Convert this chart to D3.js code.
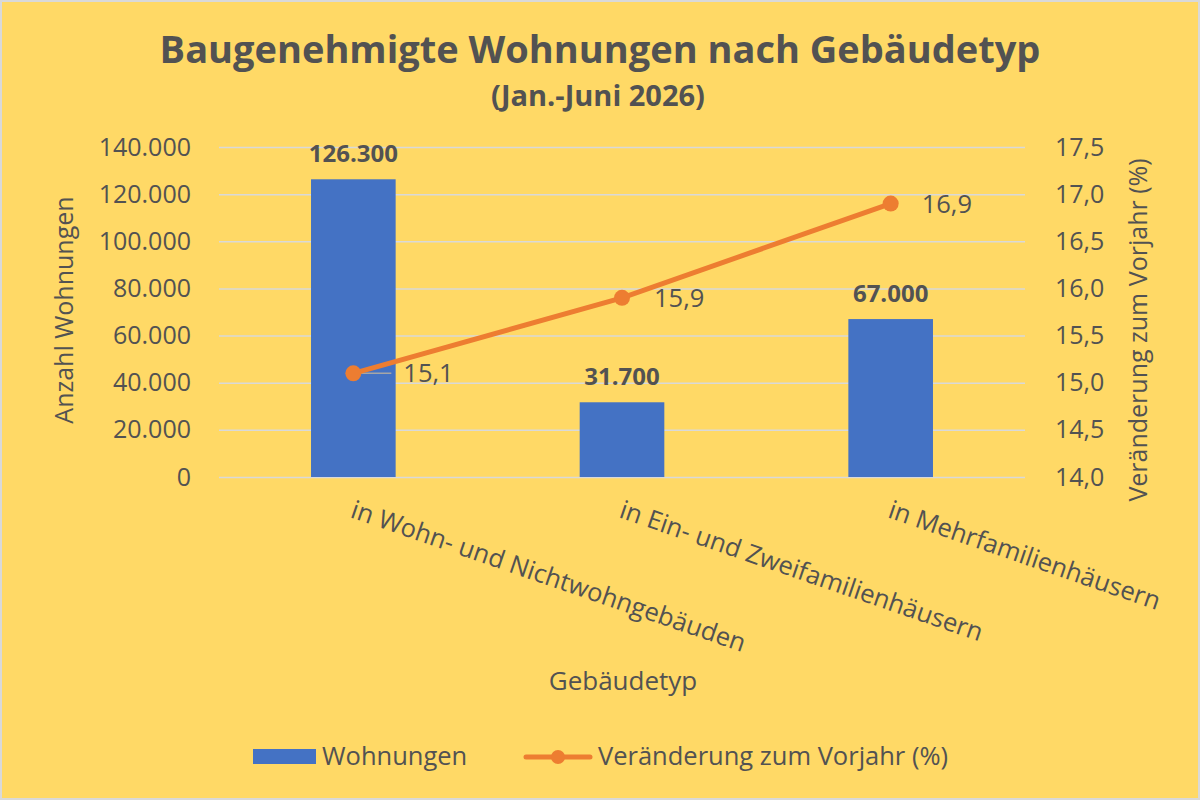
<!DOCTYPE html>
<html><head><meta charset="utf-8">
<script src="https://cdn.jsdelivr.net/npm/d3@7"></script>
<style>
body{margin:0;background:#fff;}
text{font-family:"Open Sans","Noto Sans",sans-serif;fill:#525252;}
</style></head>
<body><div id="chart"></div>
<script>
var categories=["in Wohn- und Nichtwohngebäuden","in Ein- und Zweifamilienhäusern","in Mehrfamilienhäusern"];
var wohnungen=[126300,31700,67000];
var veraenderung=[15.1,15.9,16.9];
var leftTicks=[0,20000,40000,60000,80000,100000,120000,140000];
var rightTicks=[14.0,14.5,15.0,15.5,16.0,16.5,17.0,17.5];

var W=1200,H=800;
var m={top:147,right:175,bottom:323,left:219};
var width=W-m.left-m.right, height=H-m.top-m.bottom;
var svg=d3.select("#chart").append("svg").attr("width",W).attr("height",H);
svg.append("rect").attr("x",1).attr("y",1).attr("width",W-2).attr("height",H-2)
   .attr("fill","#FFD966").attr("stroke","#D9D9D9").attr("stroke-width",2);

var fmtDE=d3.formatLocale({decimal:",",thousands:".",grouping:[3]});
var fmtInt=fmtDE.format(",.0f"), fmt1=fmtDE.format(".1f");

svg.append("text").attr("x",600).attr("y",63).attr("text-anchor","middle")
   .style("font-size","38px").style("font-weight","bold").text("Baugenehmigte Wohnungen nach Gebäudetyp");
svg.append("text").attr("x",598).attr("y",106).attr("text-anchor","middle")
   .style("font-size","29px").style("font-weight","bold").text("(Jan.-Juni 2026)");

var g=svg.append("g").attr("transform","translate("+m.left+","+m.top+")");
var x=d3.scaleBand().domain(categories).range([0,width]).paddingInner(0.685).paddingOuter(0.3425);
var y=d3.scaleLinear().domain([0,140000]).range([height,0]);
var y2=d3.scaleLinear().domain([14,17.5]).range([height,0]);

// grid
g.append("g").call(d3.axisLeft(y).tickValues(leftTicks).tickSize(-width).tickFormat(""))
 .call(function(s){s.select(".domain").remove();s.selectAll("line").attr("stroke","#D9D9D9").attr("stroke-width",1.5);});

// left axis
g.append("g").call(d3.axisLeft(y).tickValues(leftTicks).tickSize(0).tickPadding(28).tickFormat(fmtInt))
 .call(function(s){s.select(".domain").remove();s.selectAll("text").style("font-size","25px").attr("fill","#525252");});
// right axis
g.append("g").attr("transform","translate("+width+",0)")
 .call(d3.axisRight(y2).tickValues(rightTicks).tickSize(0).tickPadding(30).tickFormat(fmt1))
 .call(function(s){s.select(".domain").remove();s.selectAll("text").style("font-size","25px").attr("fill","#525252");});

// bars
g.selectAll("rect.bar").data(wohnungen).enter().append("rect").attr("class","bar")
 .attr("x",function(d,i){return x(categories[i]);}).attr("width",x.bandwidth())
 .attr("y",function(d){return y(d);}).attr("height",function(d){return height-y(d);})
 .attr("fill","#4472C4");
g.selectAll("text.blab").data(wohnungen).enter().append("text").attr("class","blab")
 .attr("x",function(d,i){return x(categories[i])+x.bandwidth()/2;}).attr("y",function(d){return y(d)-17;})
 .attr("text-anchor","middle").style("font-size","24px").style("font-weight","bold").attr("fill","#404040")
 .text(function(d){return fmtInt(d);});

// x labels
g.selectAll("text.xl").data(categories).enter().append("text").attr("class","xl")
 .attr("transform",function(d){return "translate("+(x(d)+x.bandwidth()/2-4)+","+(height+40)+") rotate(19)";})
 .style("font-size","25.5px").text(function(d){return d;});

// line
var cx=function(i){return x(categories[i])+x.bandwidth()/2;};
var line=d3.line().x(function(d,i){return cx(i);}).y(function(d){return y2(d);});
// leader line for first label
g.append("line").attr("x1",cx(0)).attr("x2",cx(0)+38).attr("y1",y2(veraenderung[0])).attr("y2",y2(veraenderung[0]))
 .attr("stroke","#A6A6A6").attr("stroke-width",1.5);
g.append("path").datum(veraenderung).attr("fill","none").attr("stroke","#ED7D31").attr("stroke-width",5)
 .attr("stroke-linecap","round").attr("d",line);
g.selectAll("circle.pt").data(veraenderung).enter().append("circle").attr("class","pt")
 .attr("cx",function(d,i){return cx(i);}).attr("cy",function(d){return y2(d);}).attr("r",8).attr("fill","#ED7D31");
var lblOff=[50,32,31];
g.selectAll("text.llab").data(veraenderung).enter().append("text").attr("class","llab")
 .attr("x",function(d,i){return cx(i)+lblOff[i];}).attr("y",function(d){return y2(d)+9;})
 .style("font-size","25.5px").attr("fill","#404040").text(function(d){return fmt1(d);});

// axis titles
svg.append("text").attr("transform","translate(73,"+(m.top+height/2-2)+") rotate(-90)").attr("text-anchor","middle")
 .style("font-size","25px").text("Anzahl Wohnungen");
svg.append("text").attr("transform","translate(1147,"+(m.top+height/2+18)+") rotate(-90)").attr("text-anchor","middle")
 .style("font-size","25px").text("Veränderung zum Vorjahr (%)");
svg.append("text").attr("x",623).attr("y",690).attr("text-anchor","middle").style("font-size","26px").text("Gebäudetyp");

// legend
var lg=svg.append("g");
lg.append("rect").attr("x",253).attr("y",749).attr("width",63).attr("height",15).attr("fill","#4472C4");
lg.append("text").attr("x",322).attr("y",765).style("font-size","25.5px").text("Wohnungen");
lg.append("line").attr("x1",526).attr("x2",590).attr("y1",757).attr("y2",757).attr("stroke","#ED7D31").attr("stroke-width",5).attr("stroke-linecap","round");
lg.append("circle").attr("cx",558).attr("cy",757).attr("r",7).attr("fill","#ED7D31");
lg.append("text").attr("x",598).attr("y",765).style("font-size","25.5px").text("Veränderung zum Vorjahr (%)");
</script></body></html>
